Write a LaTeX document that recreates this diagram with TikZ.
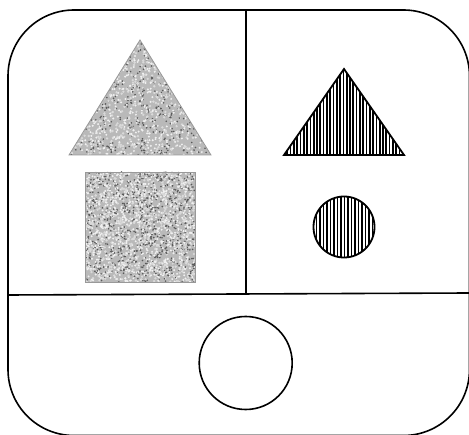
\documentclass[tikz,border=0pt]{standalone}
\begin{document}
\begin{tikzpicture}[x=1pt,y=-1pt,
  frame/.style={line width=1.6pt,black},
  hatchout/.style={line width=1.8pt,black},
  hatchline/.style={line width=1.7pt,black},
  granedge/.style={draw=gray!80,line width=0.8pt}]
\useasboundingbox (0,0) rectangle (469,435);
\clip (0,0) rectangle (469,435);
\fill[white] (0,0) rectangle (469,435);
% granite triangle
\begin{scope}
  \clip (140,40) -- (211,155) -- (69,155) -- cycle;
  \fill[gray!55] (69,40) rectangle (211,155);
  \pgfmathsetseed{7}
  \foreach \i in {1,...,1700}{
    \pgfmathsetmacro\rx{69+142*rnd}
    \pgfmathsetmacro\ry{40+115*rnd}
    \pgfmathsetmacro\rc{rnd}
    \ifdim\rc pt<0.40pt
      \fill[gray!12] (\rx,\ry) circle (1.1);
    \else\ifdim\rc pt<0.70pt
      \fill[black!65] (\rx,\ry) circle (0.9);
    \else
      \fill[gray!30] (\rx,\ry) circle (1.3);
    \fi\fi
  }
\end{scope}
\draw[granedge] (140,40) -- (211,155) -- (69,155) -- cycle;
% granite square
\begin{scope}
  \clip (85,172) rectangle (195,282);
  \fill[gray!55] (85,172) rectangle (195,282);
  \pgfmathsetseed{11}
  \foreach \i in {1,...,2300}{
    \pgfmathsetmacro\rx{85+110*rnd}
    \pgfmathsetmacro\ry{172+110*rnd}
    \pgfmathsetmacro\rc{rnd}
    \ifdim\rc pt<0.40pt
      \fill[gray!12] (\rx,\ry) circle (1.1);
    \else\ifdim\rc pt<0.70pt
      \fill[black!65] (\rx,\ry) circle (0.9);
    \else
      \fill[gray!30] (\rx,\ry) circle (1.3);
    \fi\fi
  }
\end{scope}
\draw[granedge] (85,172) rectangle (195,282);
% hatched triangle
\begin{scope}
  \clip (344,69) -- (404,155) -- (284,155) -- cycle;
  \foreach \x in {284,287.3,...,406}{
    \draw[hatchline] (\x,60) -- (\x,160);
  }
\end{scope}
\draw[hatchout,line join=miter] (344,69) -- (404,155) -- (284,155) -- cycle;
% hatched circle
\begin{scope}
  \clip (344,227) circle (30.5);
  \foreach \x in {313,316.5,...,376}{
    \draw[hatchline] (\x,195) -- (\x,260);
  }
\end{scope}
\draw[hatchout] (344,227) circle (30.5);
% frame
\draw[frame,rounded corners=66pt] (8,10) rectangle (469.5,435.5);
\draw[frame] (245.7,10) -- (245.7,295);
\draw[frame] (8,295) -- (469,293);
% open circle
\draw[frame] (245.7,363) circle (46.5);
\end{tikzpicture}
\end{document}
